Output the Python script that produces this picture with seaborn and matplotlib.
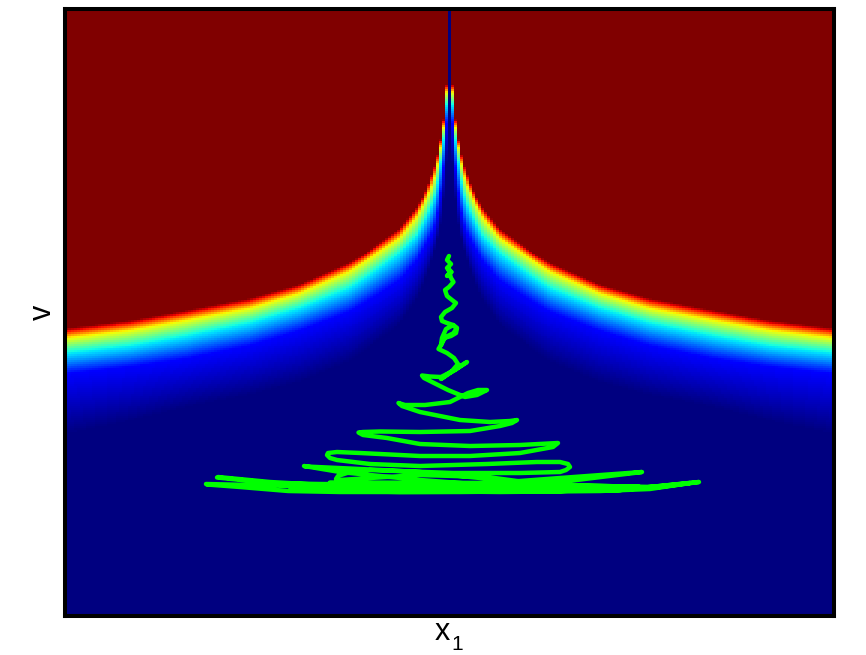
import numpy as np
import pandas as pd
import seaborn as sns
import matplotlib
matplotlib.use("Agg")
import matplotlib.pyplot as plt

sns.set_theme(style="white")
plt.rcParams['font.family'] = ['Liberation Sans', 'DejaVu Sans']

# Horizontal distance from the centre line, and the height (reference pixel row)
# at which the field reaches each colour level.
dist = [0, 3, 6, 9, 12, 16, 26, 33, 50, 83, 100, 150, 200, 264, 320, 385]
lvl_values = [1.0, 0.65, 0.37, 0.11, 0.0]
lvl_red = [-40, 85, 120, 140, 155, 170, 195, 207, 228, 252, 262, 284, 298, 310, 320, 328]
lvl_yellow = [-30, 93, 128, 148, 165, 182, 204, 217, 238, 260, 271, 293, 308, 320, 330, 338]
lvl_cyan = [-20, 105, 140, 162, 182, 200, 222, 235, 252, 276, 287, 307, 322, 335, 345, 352]
lvl_blue = [-10, 125, 170, 195, 215, 232, 250, 262, 282, 303, 313, 332, 347, 360, 368, 375]
lvl_navy = [0, 165, 200, 225, 240, 255, 285, 300, 325, 350, 362, 383, 396, 408, 422, 435]

# Green trajectory, in reference pixels
traj_x = [449, 447, 451, 447, 451.5, 447, 451, 448, 451, 453.5, 449, 445, 447, 452, 456, 452,
          445, 441, 442, 447, 453, 457, 456, 451, 444, 441, 442, 446,
          453.3, 456.7, 453.3, 445, 441, 438.5, 447, 454, 458, 452, 445, 441, 450, 459, 467,
          455, 441, 430, 422, 424, 432, 448, 465, 477, 487, 478, 468, 450, 425, 405, 398.5, 402,
          420, 460, 490, 510, 517, 512, 500, 470, 420, 380, 363, 358.5, 363,
          387, 420, 470, 520, 550, 558, 553, 520, 470, 420, 360, 337, 328, 327, 330,
          337, 370, 420, 487, 537, 560, 568, 570, 566, 560, 520, 453, 370, 347, 338, 336,
          340, 370, 420, 487, 547, 572, 540, 500, 420, 340, 304, 306, 360, 420, 480, 540, 600, 660, 699,
          640, 560, 460, 340, 288, 240, 207, 206, 250, 300, 380, 480, 560, 642,
          560, 460, 340, 270, 218, 217, 300, 400, 500, 600, 650, 690,
          620, 520, 400, 290, 400, 520, 620, 655, 600, 450, 320, 260, 290, 420, 600, 640, 500, 330]
traj_y = [256, 260, 264, 268, 272, 276, 272, 268, 278, 282, 287, 290, 296, 300, 303, 308,
          312, 317, 321, 323, 325, 328, 333, 336, 338, 345, 338, 329,
          325, 328.3, 333.3, 337.3, 345, 349, 353, 358, 364, 371, 376, 379, 373, 367, 362,
          370, 377, 376.5, 375.5, 378, 382, 390, 397, 395, 390, 390, 393, 402, 405, 405, 403, 406,
          412, 420, 422, 421, 420, 423, 426, 431, 432, 431.5, 432, 432.5, 435,
          438, 444, 446, 445, 443.5, 443, 447, 453, 456, 456, 453, 452, 453, 455, 458,
          460, 464, 466, 464, 462, 462, 464, 467, 470, 472, 473, 473, 470, 473, 476, 479,
          480, 478, 475, 477, 485, 489, 487, 486, 480, 472, 466, 466.5, 469, 472, 478, 486, 490, 487, 482,
          488, 491, 492, 492, 491, 487, 484.5, 484, 485, 486, 488, 484, 478, 472,
          482, 487, 486, 482, 477, 477.5, 486, 491, 492, 491, 489, 483,
          490, 491.5, 491, 490, 492, 491.5, 490, 487, 486, 485, 484, 483, 486, 488, 488, 487, 483, 482.5]

L, R, T, B = 64.7, 834.5, 9.3, 616.0
n_cols, n_rows = 257, 303
col_px = (L + R) / 2 + (np.arange(n_cols) - n_cols // 2) * (R - L) / n_cols
row_px = T + (np.arange(n_rows) + 0.5) * (B - T) / n_rows
levels = [lvl_red, lvl_yellow, lvl_cyan, lvl_blue, lvl_navy]
field = np.zeros((n_rows, n_cols))
for j, cx in enumerate(col_px):
    d = abs(cx - (L + R) / 2)
    iso = [np.interp(d, dist, lv) for lv in levels]
    field[:, j] = np.interp(row_px, iso, lvl_values)
table = pd.DataFrame(field)

fig = plt.figure(figsize=(8.66, 6.55), dpi=100, facecolor='white')
ax = fig.add_axes([L / 866, 1 - B / 655, (R - L) / 866, (B - T) / 655])
sns.heatmap(table, cmap='jet', vmin=0, vmax=1, cbar=False, xticklabels=False,
            yticklabels=False, ax=ax)

cell_x = (np.array(traj_x) - L) * n_cols / (R - L)
cell_y = (np.array(traj_y) - T) * n_rows / (B - T)
ax.plot(cell_x, cell_y, color='#00ff00', lw=3.2, solid_joinstyle='round',
        solid_capstyle='round')

for s in ax.spines.values():
    s.set_visible(True)
    s.set_color('black')
    s.set_linewidth(2.9)

ax.set_ylabel('v', fontsize=22, color='black', labelpad=5)
ax.set_xlabel('x', fontsize=22, color='black', labelpad=1, x=(442 - L) / (R - L))
fig.text(457 / 866, 1 - 650 / 655, '1', fontsize=15, color='black', ha='center', va='baseline')
fig.savefig('out.png', dpi=100)
